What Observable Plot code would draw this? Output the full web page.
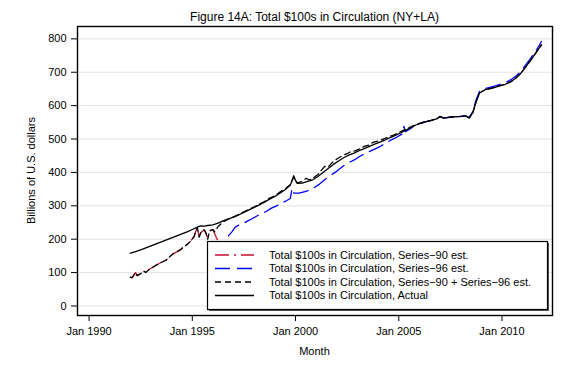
<!DOCTYPE html>
<html><head><meta charset="utf-8">
<script src="https://cdn.jsdelivr.net/npm/d3@7"></script>
<script src="https://cdn.jsdelivr.net/npm/@observablehq/plot@0.6"></script>
<style>body{margin:0;background:#fff}#chart{width:582px;height:367px}</style>
</head><body><div id="chart"></div>
<script>
const titleText = "Figure 14A: Total $100s in Circulation (NY+LA)";
const yLabel = "Billions of U.S. dollars";
const xLabel = "Month";
const yTicks = [0,100,200,300,400,500,600,700,800];
const xTickYears = [1990,1995,2000,2005,2010];

const actualMonths = ["1992-01","1992-04","1992-07","1992-10","1993-01","1993-04","1993-07","1993-10","1994-01","1994-04","1994-07","1994-10","1995-01","1995-04","1995-06","1995-08","1995-10","1996-01","1996-04","1996-07","1996-10","1997-01","1997-04","1997-07","1997-10","1998-01","1998-04","1998-07","1998-10","1999-01","1999-04","1999-07","1999-10","1999-12","2000-01","2000-02","2000-05","2000-08","2000-11","2001-02","2001-05","2001-08","2001-11","2002-02","2002-05","2002-08","2002-11","2003-02","2003-05","2003-08","2003-11","2004-02","2004-05","2004-08","2004-11","2005-02","2005-05","2005-08","2005-11","2006-02","2006-05","2006-08","2006-11","2007-01","2007-03","2007-05","2007-08","2007-11","2008-02","2008-04","2008-06","2008-08","2008-10","2008-12","2009-03","2009-06","2009-09","2009-12","2010-03","2010-06","2010-09","2010-12","2011-03","2011-06","2011-09","2011-12"];
const actualValues = [158,163,168,174,180,186,192,198,204,210,216,222,229,236,240,239,241,243,248,255,261,266,273,280,288,295,303,311,320,328,338,348,362,390,376,367,368,373,378,388,400,412,424,434,444,452,458,465,471,478,485,491,497,504,511,518,526,534,542,548,552,556,560,567,563,564,566,567,568,569,563,578,612,638,647,651,655,660,664,671,682,697,717,738,760,782];

const s90Months = ["1992-01","1992-02","1992-03","1992-04","1992-05","1992-07","1992-09","1992-10","1992-12","1993-02","1993-04","1993-06","1993-08","1993-10","1993-12","1994-02","1994-04","1994-06","1994-08","1994-10","1994-12","1995-02","1995-03","1995-04","1995-05","1995-06","1995-08","1995-09","1995-10","1995-11","1996-01","1996-03","1996-05"];
const s90Values = [86,85,92,100,91,97,104,100,110,116,122,128,133,138,148,157,162,168,177,184,194,208,222,234,206,220,228,218,200,225,229,205,185];

const s96Months = ["1996-05","1996-07","1996-09","1996-10","1996-12","1997-02","1997-04","1997-06","1997-09","1997-12","1998-02","1998-05","1998-08","1998-11","1999-02","1999-05","1999-08","1999-10","1999-11","1999-12","2000-03","2000-06","2000-09","2000-12","2001-03","2001-06","2001-09","2001-12","2002-03","2002-06","2002-09","2002-12","2003-03","2003-06","2003-09","2003-12","2004-03","2004-06","2004-09","2004-12","2005-03","2005-04","2005-05","2005-08","2005-11","2006-02","2006-05","2006-08","2006-11","2007-01","2007-03","2007-06","2007-09","2007-12","2008-03","2008-05","2008-06","2008-08","2008-10","2008-12","2009-03","2009-06","2009-09","2009-12","2010-03","2010-06","2010-09","2010-12","2011-03","2011-06","2011-09","2011-12"];
const s96Values = [150,183,200,210,222,236,242,246,254,262,268,276,283,293,300,308,316,322,352,338,338,342,346,355,365,378,390,400,412,424,432,440,450,458,465,472,480,490,498,506,515,538,522,532,542,548,552,556,561,568,563,565,566,567,570,567,565,582,618,643,651,655,659,664,669,677,688,703,723,744,766,792];

const sumMonths = ["1992-01","1992-02","1992-03","1992-04","1992-05","1992-07","1992-09","1992-10","1992-12","1993-02","1993-04","1993-06","1993-08","1993-10","1993-12","1994-02","1994-04","1994-06","1994-08","1994-10","1994-12","1995-02","1995-03","1995-04","1995-05","1995-06","1995-08","1995-09","1995-10","1995-11","1996-01","1996-02","1996-04","1996-07","1996-10","1997-01","1997-04","1997-07","1997-10","1998-01","1998-04","1998-07","1998-10","1999-01","1999-04","1999-07","1999-10","1999-12","2000-01","2000-02","2000-05","2000-07","2000-09","2000-11","2001-02","2001-04","2001-06","2001-08","2001-10","2002-01","2002-03","2002-05","2002-07","2002-09","2002-12","2003-03","2003-05","2003-08","2003-10","2004-01","2004-04","2004-07","2004-10","2005-01","2005-04","2005-07","2005-10","2006-01","2006-05","2006-08","2006-11","2007-01","2007-03","2007-05","2007-08","2007-11","2008-02","2008-04","2008-06","2008-08","2008-10","2008-12","2009-03","2009-06","2009-09","2009-12","2010-03","2010-06","2010-09","2010-12","2011-03","2011-06","2011-09","2011-12"];
const sumValues = [86,85,92,100,91,97,104,100,110,116,122,128,133,138,148,157,162,168,177,184,194,208,222,234,206,220,228,218,200,225,229,222,238,252,260,267,274,282,290,297,305,313,323,330,341,351,363,386,374,369,373,382,378,382,394,406,418,416,428,440,446,452,456,462,465,472,478,482,490,494,500,506,512,519,527,534,541,547,552,556,560,567,563,564,566,567,568,569,563,578,612,638,647,651,655,660,664,671,682,697,717,738,760,782];

const legendLabels = [
  "Total $100s in Circulation, Series\u221290 est.",
  "Total $100s in Circulation, Series\u221296 est.",
  "Total $100s in Circulation, Series\u221290 + Series\u221296 est.",
  "Total $100s in Circulation, Actual"
];

const font = "'Liberation Sans', Arial, Helvetica, sans-serif";
const toRows = (months, values) => months.map((m, i) => ({date: new Date(m + "-01T00:00:00Z"), value: values[i]}));
const styles = [
  {stroke: "#c8102e", dash: "14,5,2,5"},
  {stroke: "#0000ff", dash: "15,7"},
  {stroke: "#000000", dash: "6,4"},
  {stroke: "#000000", dash: null}
];
const series = [toRows(s90Months, s90Values), toRows(s96Months, s96Values), toRows(sumMonths, sumValues), toRows(actualMonths, actualValues)];

const chart = Plot.plot({
  width: 582, height: 367,
  marginLeft: 77, marginRight: 30, marginTop: 26, marginBottom: 52,
  style: {fontFamily: font, fontSize: "11px", background: "white", color: "black"},
  x: {type: "utc", domain: [new Date(Date.UTC(1989, 5, 10)), new Date(Date.UTC(2012, 5, 13))]},
  y: {domain: [-28.5, 837]},
  marks: [
    Plot.gridY(yTicks, {stroke: "#e3e3e3", strokeOpacity: 1, strokeWidth: 1}),
    ...series.map((rows, i) => Plot.line(rows, {x: "date", y: "value", stroke: styles[i].stroke, strokeWidth: 1.3, strokeDasharray: styles[i].dash ?? undefined})),
    Plot.frame({stroke: "black", strokeWidth: 1.4}),
    Plot.axisY(yTicks, {tickSize: 6, tickPadding: 5, label: null, fontSize: 11}),
    Plot.axisX(xTickYears.map(y => new Date(Date.UTC(y, 0, 1))), {tickSize: 6, tickPadding: 6, tickFormat: d3.utcFormat("Jan %Y"), label: null, fontSize: 11})
  ]
});
document.getElementById("chart").appendChild(chart);

const svg = d3.select(chart);
const cx = (77 + 552) / 2;
svg.append("text").attr("x", cx).attr("y", 21).attr("text-anchor", "middle")
  .style("font-family", font).style("font-size", "12px").attr("fill", "black").text(titleText);
svg.append("text").attr("transform", "translate(35,170.5) rotate(-90)").attr("text-anchor", "middle")
  .style("font-family", font).style("font-size", "11px").attr("fill", "black").text(yLabel);
svg.append("text").attr("x", cx).attr("y", 355).attr("text-anchor", "middle")
  .style("font-family", font).style("font-size", "11px").attr("fill", "black").text(xLabel);

const lg = svg.append("g");
const bx = 207.5, by = 241.5, bw = 340, bh = 68;
lg.append("rect").attr("x", bx + 1.5).attr("y", by + 1.5).attr("width", bw).attr("height", bh).attr("fill", "#555");
lg.append("rect").attr("x", bx).attr("y", by).attr("width", bw).attr("height", bh).attr("fill", "white").attr("stroke", "black").attr("stroke-width", 1.2);
const rowsY = [255, 268.5, 282, 295.5];
legendLabels.forEach((lab, i) => {
  const l = lg.append("line").attr("x1", 215).attr("x2", 254).attr("y1", rowsY[i]).attr("y2", rowsY[i])
    .attr("stroke", styles[i].stroke).attr("stroke-width", 1.5);
  if (styles[i].dash) l.attr("stroke-dasharray", styles[i].dash);
  lg.append("text").attr("x", 269).attr("y", rowsY[i]).attr("dy", "0.35em").attr("text-anchor", "start")
    .style("text-anchor", "start")
    .style("font-family", font).style("font-size", "11px").attr("fill", "black").text(lab);
});
</script>
</body></html>
